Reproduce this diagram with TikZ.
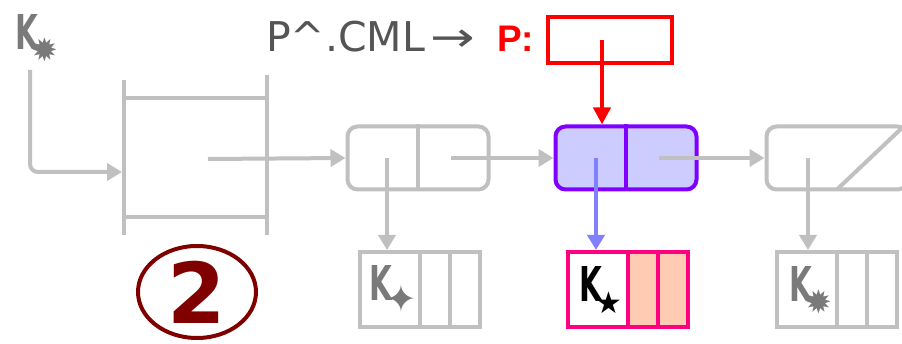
\documentclass[tikz,border=0pt]{standalone}
\usepackage{fontspec}
\setmainfont{DejaVu Sans}
\newfontfamily\libsans{Liberation Sans}
\newfontfamily\kfont{DejaVu Sans Condensed}
\usepackage{graphicx}
\usetikzlibrary{arrows.meta,shapes.geometric}
\definecolor{lg}{HTML}{C0C0C0}
\definecolor{kg}{HTML}{7A7A7A}
\definecolor{txt}{HTML}{555555}
\definecolor{vio}{HTML}{8000FF}
\definecolor{lav}{HTML}{CCCCFF}
\definecolor{blu}{HTML}{8080FF}
\definecolor{pnk}{HTML}{FF0080}
\definecolor{pch}{HTML}{FFCCB3}
\definecolor{dred}{HTML}{800000}
\newcommand\kwith[2][28]{{\kfont\bfseries\fontsize{48}{48}\selectfont\scalebox{0.68}[1]{K}}\kern-6pt\raisebox{-12pt}{\fontsize{#1}{#1}\selectfont #2}}
\begin{document}
\begin{tikzpicture}[x=1pt,y=-1pt,
  gl/.style={draw=lg,line width=4pt},
  garr/.style={draw=lg,line width=4pt,-{Triangle[length=15pt,width=17pt]}},
  cell/.style={draw=lg,line width=4pt,rounded corners=10pt,minimum width=141pt,minimum height=63pt,inner sep=0pt},
  bx/.style={draw=lg,line width=4pt,minimum width=120pt,minimum height=75pt,inner sep=0pt},
  klabel/.style={anchor=base west,inner sep=0pt,text=kg}]
\clip (0,0) rectangle (902,344);
\fill[white] (0,0) rectangle (902,344);
% header block
\draw[gl] (124,80) -- (124,235);
\draw[gl] (267,75) -- (267,235);
\draw[gl] (124,98) -- (267,98);
\draw[gl] (124,217) -- (267,217);
\coordinate (hsrc) at (208,159);
\coordinate (hin) at (122,172);
% K start
\node[klabel] (k0) at (15,50) {\kwith[32]{✹}};
\coordinate (kfoot) at (30,70);
\draw[garr,rounded corners=8pt] (kfoot) |- (hin);
% list nodes
\node[cell] (n1) at (418,158) {};
\node[cell,draw=vio,fill=lav] (n2) at (626,158) {};
\node[cell] (n3) at (837,158) {};
\draw[gl] (n1.north) -- (n1.south);
\draw[line width=4pt,draw=vio] (n2.north) -- (n2.south);
\draw[gl] ([yshift=2pt]n3.south) -- ([xshift=-6pt,yshift=-2pt]n3.north east);
% bottom boxes
\node[bx] (b1) at (420,289.5) {};
\node[bx,draw=pnk,fill=pch] (b2) at (627.5,289.5) {};
\fill[white] ([xshift=4pt,yshift=-4pt]b2.north west) rectangle ([xshift=62pt,yshift=4pt]b2.south west);
\node[bx] (b3) at (837,289.5) {};
\foreach \b/\c in {b1/lg,b3/lg,b2/pnk}{
  \draw[line width=4pt,draw=\c] ([xshift=62pt]\b.north west) -- ([xshift=62pt]\b.south west);
  \draw[line width=4pt,draw=\c] ([xshift=92pt]\b.north west) -- ([xshift=92pt]\b.south west);
}
\node[klabel] (k1) at (369,301) {\kwith[38]{✦}};
\node[klabel,text=black] (k2) at (579,302) {\kwith[30]{★}};
\node[klabel] (k3) at (789,302) {\kwith[32]{✹}};
% connectors
\draw[garr] (hsrc) -- (n1.west);
\draw[garr] ([xshift=33pt]n1.center) -- (n2.west);
\draw[garr] ([xshift=33pt]n2.center) -- (n3.west);
\draw[garr] ([xshift=-31pt]n1.center) -- ([xshift=-31pt]n1.center |- b1.north);
\draw[line width=4pt,draw=blu,-{Triangle[length=15pt,width=17pt]}] ([xshift=-30pt]n2.center) -- ([xshift=-30pt]n2.center |- b2.north);
\draw[garr] ([xshift=-29pt]n3.center) -- ([xshift=-29pt]n3.center |- b3.north);
% pointer P
\node[anchor=base west,inner sep=0pt,text=txt,font=\fontsize{41}{41}\selectfont] (cml) at (266,52) {P\textasciicircum.CML\hspace{5pt}\scalebox{1.3}[1]{→}};
\node[anchor=base west,inner sep=0pt,text=red,font=\libsans\bfseries\fontsize{37}{37}\selectfont] (plab) at (497,52) {P:};
\node[draw=red,line width=4pt,minimum width=124pt,minimum height=46pt,inner sep=0pt] (pb) at (610,40) {};
\draw[red,line width=4pt,-{Triangle[length=17pt,width=17pt]}] ([xshift=-8pt]pb.center) -- ([xshift=-24pt]n2.north);
% step number
\node[ellipse,draw=dred,line width=4pt,minimum width=118pt,minimum height=92pt,inner sep=0pt,text=dred,font=\bfseries\fontsize{84}{84}\selectfont] (two) at (197,292) {2};
\end{tikzpicture}
\end{document}
